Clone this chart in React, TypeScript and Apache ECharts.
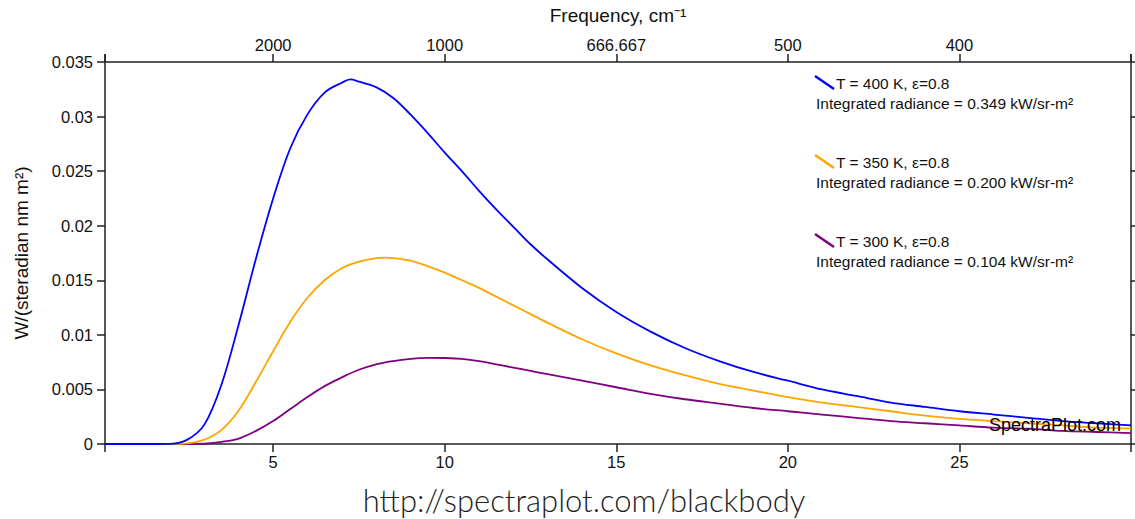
import React, { useEffect, useRef } from "react";
import * as echarts from "echarts";

// wavelength, µm (sampling per curve, finer around each peak)
const wavelength400 = [0.1, 1, 2, 2.5, 3, 3.5, 4, 4.5, 5, 5.5, 6, 6.5, 7, 7.25, 7.5, 8, 8.5, 9, 9.5, 10, 10.5, 11, 11.5, 12, 12.5, 13, 14, 15, 16, 17, 18, 19, 20, 21, 22, 23, 24, 25, 26, 27, 28, 29, 30];
const wavelength350 = [0.1, 1, 2, 2.5, 3, 3.5, 4, 4.5, 5, 5.5, 6, 6.5, 7, 7.5, 8, 8.25, 8.5, 9, 9.5, 10, 10.5, 11, 11.5, 12, 12.5, 13, 14, 15, 16, 17, 18, 19, 20, 21, 22, 23, 24, 25, 26, 27, 28, 29, 30];
const wavelength300 = [0.1, 1, 2, 2.5, 3, 3.5, 4, 4.5, 5, 5.5, 6, 6.5, 7, 7.5, 8, 8.5, 9, 9.5, 10, 10.5, 11, 11.5, 12, 12.5, 13, 14, 15, 16, 17, 18, 19, 20, 21, 22, 23, 24, 25, 26, 27, 28, 29, 30];

// W/(steradian nm m²)
const radiance400 = [0, 0, 0.00002, 0.0004, 0.0018, 0.0055, 0.0110, 0.0170, 0.0225, 0.0271, 0.0302, 0.0322, 0.0331, 0.0334, 0.0332, 0.0327, 0.0317, 0.0302, 0.0285, 0.0267, 0.0250, 0.0232, 0.0215, 0.0199, 0.0183, 0.0169, 0.0143, 0.0121, 0.0103, 0.0088, 0.0076, 0.0066, 0.0058, 0.0050, 0.0044, 0.0038, 0.0034, 0.0030, 0.0027, 0.0024, 0.0021, 0.0019, 0.0017];
const radiance350 = [0, 0, 0, 0.00005, 0.0004, 0.0013, 0.0031, 0.0057, 0.0085, 0.0112, 0.0134, 0.0150, 0.0161, 0.0167, 0.01703, 0.01708, 0.01704, 0.0168, 0.0163, 0.0157, 0.0150, 0.0143, 0.0135, 0.0127, 0.0119, 0.0111, 0.0096, 0.0083, 0.0072, 0.0063, 0.0055, 0.0049, 0.0043, 0.0038, 0.0034, 0.0030, 0.0026, 0.0023, 0.0021, 0.0019, 0.0017, 0.0015, 0.0014];
const radiance300 = [0, 0, 0, 0, 0.00004, 0.0002, 0.0005, 0.0012, 0.0021, 0.0032, 0.0043, 0.0053, 0.0061, 0.0068, 0.0073, 0.0076, 0.0078, 0.0079, 0.00788, 0.0078, 0.0076, 0.0073, 0.0070, 0.0067, 0.0064, 0.0058, 0.0052, 0.0046, 0.0041, 0.0037, 0.0033, 0.0030, 0.0027, 0.0024, 0.0021, 0.0019, 0.0017, 0.0015, 0.0014, 0.0012, 0.0011, 0.0010];

const xMin = 0.1;
const xMax = 30;
const bottomTicks = [5, 10, 15, 20, 25];
const topTickLabels = ["2000", "1000", "666.667", "500", "400"];

const seriesColors = ["#0000ff", "#ffa500", "#800080"];
const legendLabels = ["T = 400 K, ε=0.8", "T = 350 K, ε=0.8", "T = 300 K, ε=0.8"];
const integratedLabels = [
  "Integrated radiance = 0.349 kW/sr-m²",
  "Integrated radiance = 0.200 kW/sr-m²",
  "Integrated radiance = 0.104 kW/sr-m²",
];

const FONT = '"Liberation Sans", Arial, Helvetica, sans-serif';
const AXIS_COLOR = "#222";

export default function App() {
  const ref = useRef<HTMLDivElement>(null);

  useEffect(() => {
    document.body.style.margin = "0";
    if (!ref.current) return;
    const chart = echarts.init(ref.current, undefined, { renderer: "svg" });

    const allSeries = [
      { x: wavelength400, y: radiance400 },
      { x: wavelength350, y: radiance350 },
      { x: wavelength300, y: radiance300 },
    ];

    const legendGraphics: any[] = [];
    legendLabels.forEach((label, i) => {
      const y0 = 76 + i * 79;
      legendGraphics.push({
        type: "line",
        shape: { x1: 815, y1: y0, x2: 834, y2: y0 + 13 },
        style: { stroke: seriesColors[i], lineWidth: 2.5 },
      });
      legendGraphics.push({
        type: "text",
        x: 836,
        y: y0 + 7,
        style: { text: label, font: `15.5px ${FONT}`, fill: "#111", textVerticalAlign: "middle", textAlign: "left" },
      });
      legendGraphics.push({
        type: "text",
        x: 816,
        y: y0 + 27,
        style: { text: integratedLabels[i], font: `15.5px ${FONT}`, fill: "#111", textVerticalAlign: "middle", textAlign: "left" },
      });
    });

    const axisLineStyle = { color: AXIS_COLOR, width: 1.5 };
    const tickStyle = { color: AXIS_COLOR, width: 1.5 };

    chart.setOption({
      animation: false,
      backgroundColor: "#ffffff",
      grid: { left: 105, right: 4, top: 62, bottom: 75, containLabel: false, outerBoundsMode: "none" },
      xAxis: [
        {
          type: "value",
          position: "bottom",
          min: xMin,
          max: xMax,
          axisLine: { show: true, onZero: false, lineStyle: axisLineStyle },
          axisTick: { show: true, length: 8, inside: false, lineStyle: tickStyle, customValues: [xMin, ...bottomTicks, xMax] },
          axisLabel: { show: true, customValues: bottomTicks, color: "#111", fontSize: 16.5, fontFamily: FONT, margin: 9 },
          splitLine: { show: false },
        },
        {
          type: "value",
          position: "top",
          min: xMin,
          max: xMax,
          name: "Frequency, cm⁻¹",
          nameLocation: "middle",
          nameGap: 37,
          nameTextStyle: { color: "#111", fontSize: 19, fontFamily: FONT },
          axisLine: { show: true, onZero: false, lineStyle: axisLineStyle },
          axisTick: { show: true, length: 8, inside: false, lineStyle: tickStyle, customValues: [xMin, ...bottomTicks, xMax] },
          axisLabel: {
            show: true,
            customValues: bottomTicks,
            color: "#111",
            fontSize: 16.5,
            fontFamily: FONT,
            margin: 9,
            formatter: (v: number) => {
              const idx = bottomTicks.findIndex((t) => Math.abs(t - v) < 1e-6);
              return idx >= 0 ? topTickLabels[idx] : "";
            },
          },
          splitLine: { show: false },
        },
      ],
      yAxis: [
        {
          type: "value",
          position: "left",
          min: 0,
          max: 0.035,
          interval: 0.005,
          name: "W/(steradian nm m²)",
          nameLocation: "middle",
          nameGap: 74,
          nameRotate: 90,
          nameTextStyle: { color: "#111", fontSize: 19, fontFamily: FONT },
          axisLine: { show: true, onZero: false, lineStyle: axisLineStyle },
          axisTick: { show: true, length: 8, inside: false, lineStyle: tickStyle },
          axisLabel: { show: true, color: "#111", fontSize: 16.5, fontFamily: FONT, margin: 12 },
          splitLine: { show: false },
        },
        {
          type: "value",
          position: "right",
          min: 0,
          max: 0.035,
          interval: 0.005,
          axisLine: { show: true, onZero: false, lineStyle: axisLineStyle },
          axisTick: { show: true, length: 8, inside: false, lineStyle: tickStyle },
          axisLabel: { show: false },
          splitLine: { show: false },
        },
      ],
      series: allSeries.map((s, i) => ({
        type: "line",
        name: legendLabels[i],
        xAxisIndex: 0,
        yAxisIndex: 0,
        data: s.x.map((x, j) => [x, s.y[j]]),
        showSymbol: false,
        smooth: 0.35,
        lineStyle: { color: seriesColors[i], width: 1.8 },
        itemStyle: { color: seriesColors[i] },
        z: 3 - i,
      })),
      graphic: [
        ...legendGraphics,
        {
          type: "line",
          shape: { x1: 105, y1: 54, x2: 105, y2: 62 },
          style: { stroke: AXIS_COLOR, lineWidth: 1.5 },
        },
        {
          type: "line",
          shape: { x1: 1131, y1: 54, x2: 1131, y2: 62 },
          style: { stroke: AXIS_COLOR, lineWidth: 1.5 },
        },
        {
          type: "text",
          x: 1121,
          y: 425,
          z: 100,
          style: { text: "SpectraPlot.com", font: `18px ${FONT}`, fill: "#000", textAlign: "right", textVerticalAlign: "middle" },
        },
        {
          type: "text",
          x: 584,
          y: 500,
          style: { text: "http://spectraplot.com/blackbody", font: `300 31px Lato, "Open Sans", sans-serif`, fill: "#222", textAlign: "center", textVerticalAlign: "middle" },
        },
      ],
    });

    return () => {
      chart.dispose();
    };
  }, []);

  return (
    <div
      ref={ref}
      style={{ position: "absolute", left: 0, top: 0, width: 1135, height: 519 }}
    />
  );
}
